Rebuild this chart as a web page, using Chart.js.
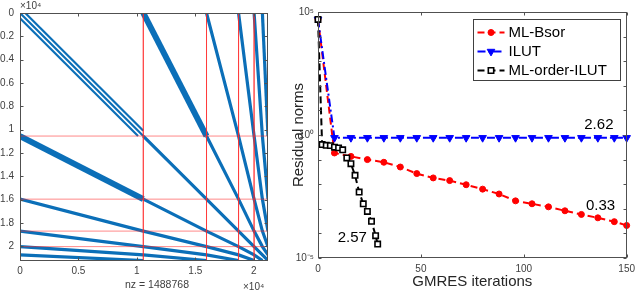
<!DOCTYPE html>
<html>
<head>
<meta charset="utf-8">
<script src="https://cdn.jsdelivr.net/npm/chart.js@4/dist/chart.umd.min.js"></script>
<style>
  html, body { margin: 0; padding: 0; background: #fff; }
  #wrap { position: relative; width: 640px; height: 292px; overflow: hidden; }
  #spy { position: absolute; left: 0; top: 0; }
  #conv { position: absolute; left: 290px; top: 0; }
</style>
</head>
<body>
<div id="wrap">
  <canvas id="spy" width="290" height="292"></canvas>
  <canvas id="conv" width="350" height="292"></canvas>
</div>
<script>
'use strict';

// left panel: sparsity pattern (units of 1e4)
const blockEdges = [0, 1.055, 1.596, 1.87, 2.003, 2.074, 2.122];
const redEdges = [1.055, 1.596, 1.87, 2.003];
const diagOffsets = [-0.045, 0.045];
const spyMax = 2.122;
const spyXTicks = [0, 0.5, 1, 1.5, 2];
const spyYTicks = [0, 0.2, 0.4, 0.6, 0.8, 1, 1.2, 1.4, 1.6, 1.8, 2];
const nzLabel = 'nz = 1488768';

// right panel: GMRES convergence
const bsorIters = [0, 8, 16, 24, 32, 40, 48, 56, 64, 72, 80, 88, 96, 104, 112, 120, 128, 136, 144, 150];
const bsorRes = [5e4, 0.186, 0.135, 0.1, 0.078, 0.05, 0.027, 0.018, 0.014, 0.0095, 0.0063, 0.004, 0.0021, 0.0016, 0.0012, 0.00083, 0.00059, 0.00043, 0.0003, 0.00021];
const ilutIters = [0, 8, 16, 24, 32, 40, 48, 56, 64, 72, 80, 88, 96, 104, 112, 120, 128, 136, 144, 150];
const ilutRes = [5e4, 0.77, 0.77, 0.77, 0.77, 0.77, 0.77, 0.77, 0.77, 0.77, 0.77, 0.77, 0.77, 0.77, 0.77, 0.77, 0.77, 0.77, 0.77, 0.77];
const orderIters = [0, 2, 4, 6, 8, 10, 12, 14, 16, 18, 20, 22, 24, 26, 28, 29];
const orderRes = [5e4, 0.41, 0.38, 0.37, 0.32, 0.3, 0.25, 0.117, 0.068, 0.023, 0.0048, 0.0016, 0.00078, 0.00031, 0.000081, 0.000037];
const convXTicks = [0, 50, 100, 150];
const convYTicks = [1e-5, 1e-4, 1e-3, 1e-2, 1e-1, 1, 10, 100, 1e3, 1e4, 1e5];
const convYLabelled = [1e-5, 1, 1e5];
const timeNotes = [
    { text: '2.62', x: 136.5, y: 2.6 },
    { text: '0.33', x: 137.3, y: 1.26e-3 },
    { text: '2.57', x: 16.7, y: 6.9e-5 },
];

Chart.defaults.font.family = '"Liberation Sans", Arial, sans-serif';
Chart.defaults.color = '#404040';
Chart.defaults.animation = false;

const spyBlue = '#0b6fb8';
const zip = (xs, ys) => xs.map((x, i) => ({ x: x, y: ys[i] }));
const sup = { '-': '\u207B', '0': '\u2070', '1': '\u00B9', '2': '\u00B2', '3': '\u00B3', '4': '\u2074', '5': '\u2075' };
const superscript = s => String(s).split('').map(c => sup[c]).join('');

/******************************** */
// shared: box + inward ticks

const boxAxes = {
    id: 'boxAxes',
    afterDraw(chart) {
        const { ctx, chartArea: a } = chart;
        const xs = chart.scales.x;
        const ys = chart.scales.y;
        const len = 3;
        const l = Math.round(a.left) + 0.5, r = Math.round(a.right) - 0.5;
        const t = Math.round(a.top) + 0.5, b = Math.round(a.bottom) - 0.5;
        ctx.save();
        ctx.strokeStyle = '#505050';
        ctx.lineWidth = 1;
        ctx.beginPath();
        xs.ticks.forEach(tk => {
            const px = Math.round(xs.getPixelForValue(tk.value)) + 0.5;
            ctx.moveTo(px, b); ctx.lineTo(px, b - len);
            ctx.moveTo(px, t); ctx.lineTo(px, t + len);
        });
        ys.ticks.forEach(tk => {
            const py = Math.round(ys.getPixelForValue(tk.value)) + 0.5;
            ctx.moveTo(l, py); ctx.lineTo(l + len, py);
            ctx.moveTo(r, py); ctx.lineTo(r - len, py);
        });
        ctx.stroke();
        ctx.strokeRect(l, t, r - l, b - t);
        ctx.restore();
    },
};

/******************************** */
// left: spy plot

const spySets = [];
const nb = blockEdges.length;
for (let d = -(nb - 2); d <= nb - 2; d++) {
    const pts = [];
    for (let j = 0; j + Math.abs(d) < nb; j++) {
        const a = blockEdges[j];
        const b = blockEdges[j + Math.abs(d)];
        pts.push(d >= 0 ? { x: b, y: a } : { x: a, y: b });
    }
    const wide = Math.abs(d) === 1;
    spySets.push({
        data: pts,
        showLine: true,
        pointRadius: 0,
        borderColor: spyBlue,
        borderWidth: 3,
        segment: { borderWidth: c => (wide && c.p0DataIndex === 0 ? 6 : d === 0 && c.p0DataIndex === 0 ? 2.2 : 3.2) },
        order: 5,
    });
}
// the first diagonal block is a triple band
diagOffsets.forEach(off => {
    const e = blockEdges[1];
    const pts = off > 0 ? [{ x: off, y: 0 }, { x: e, y: e - off }] : [{ x: 0, y: -off }, { x: e + off, y: e }];
    spySets.push({ data: pts, showLine: true, pointRadius: 0, borderColor: spyBlue, borderWidth: 2.2, order: 5 });
});
redEdges.forEach(e => {
    spySets.push({ data: [{ x: e, y: 0 }, { x: e, y: spyMax }], showLine: true, pointRadius: 0, borderColor: 'rgba(255,40,40,0.55)', borderWidth: 1, order: 1 });
    spySets.push({ data: [{ x: 0, y: e }, { x: spyMax, y: e }], showLine: true, pointRadius: 0, borderColor: 'rgba(255,40,40,0.55)', borderWidth: 1, order: 1 });
});

const spyText = {
    id: 'spyText',
    afterDraw(chart) {
        const { ctx, chartArea: a } = chart;
        ctx.save();
        ctx.fillStyle = '#404040';
        ctx.font = '10px "Liberation Sans", Arial, sans-serif';
        ctx.textBaseline = 'middle';
        ctx.textAlign = 'left';
        ctx.fillText('\u00D710' + superscript(4), a.left, 6);
        ctx.fillText('\u00D710' + superscript(4), a.right - 25, 287);
        ctx.textAlign = 'center';
        ctx.font = '10.5px "Liberation Sans", Arial, sans-serif';
        ctx.fillText(nzLabel, a.left + 137, 285);
        ctx.restore();
    },
};

new Chart(document.getElementById('spy'), {
    type: 'scatter',
    data: { datasets: spySets },
    options: {
        responsive: false,
        layout: { padding: { top: 13, right: 22, bottom: 0, left: 0 } },
        plugins: { legend: { display: false }, tooltip: { enabled: false } },
        scales: {
            x: {
                type: 'linear', min: 0, max: spyMax,
                grid: { display: false, drawTicks: false }, border: { display: false },
                afterBuildTicks: s => { s.ticks = spyXTicks.map(v => ({ value: v })); },
                afterFit: s => { s.height = 31.5; },
                ticks: { autoSkip: false, maxRotation: 0, padding: 5, font: { size: 10 }, callback: v => String(v) },
            },
            y: {
                type: 'linear', min: 0, max: spyMax, reverse: true,
                grid: { display: false, drawTicks: false }, border: { display: false },
                afterBuildTicks: s => { s.ticks = spyYTicks.map(v => ({ value: v })); },
                afterFit: s => { s.width = 20; },
                ticks: { autoSkip: false, padding: 6, font: { size: 10 }, callback: v => String(v) },
            },
        },
    },
    plugins: [boxAxes, spyText],
});

/******************************** */
// right: convergence

const convSets = [
    {
        label: 'ML-Bsor', data: zip(bsorIters, bsorRes), showLine: true,
        borderColor: '#ff0000', backgroundColor: '#ff0000', borderWidth: 2, borderDash: [7, 4],
        pointStyle: 'circle', pointRadius: 3, pointBorderWidth: 1, clip: false, order: 3,
    },
    {
        label: 'ILUT', data: zip(ilutIters, ilutRes), showLine: true,
        borderColor: '#0000ff', backgroundColor: '#0000ff', borderWidth: 2, borderDash: [8, 3, 2, 3],
        pointStyle: 'triangle', pointRotation: 180, pointRadius: 4.4, pointBorderWidth: 1, clip: false, order: 2,
    },
    {
        label: 'ML-order-ILUT', data: zip(orderIters, orderRes), showLine: true,
        borderColor: '#000000', backgroundColor: '#ffffff', borderWidth: 2, borderDash: [7, 4],
        pointStyle: 'rect', pointRadius: 3.8, pointBorderWidth: 1.6, clip: false, order: 1,
    },
];

const convLegend = {
    id: 'convLegend',
    afterDraw(chart) {
        const { ctx, chartArea: a } = chart;
        const w = 147, h = 61;
        const bx = Math.round(a.right - 7 - w) + 0.5, by = Math.round(a.top + 7) + 0.5;
        ctx.save();
        ctx.fillStyle = '#fff';
        ctx.fillRect(bx, by, w, h);
        ctx.strokeStyle = '#404040';
        ctx.lineWidth = 1;
        ctx.strokeRect(bx, by, w, h);
        ctx.font = '15px "Liberation Sans", Arial, sans-serif';
        ctx.textBaseline = 'middle';
        chart.data.datasets.forEach((ds, i) => {
            const y = by + 13 + i * 19;
            ctx.strokeStyle = ds.borderColor;
            ctx.lineWidth = ds.borderWidth;
            ctx.setLineDash(ds.borderDash);
            ctx.beginPath();
            ctx.moveTo(bx + 4, y);
            ctx.lineTo(bx + 31, y);
            ctx.stroke();
            ctx.setLineDash([]);
            ctx.fillStyle = ds.backgroundColor;
            ctx.lineWidth = ds.pointBorderWidth;
            Chart.helpers.drawPoint(ctx, { pointStyle: ds.pointStyle, rotation: ds.pointRotation || 0, radius: ds.pointRadius, borderWidth: ds.pointBorderWidth }, bx + 17.5, y);
            ctx.fillStyle = '#000';
            ctx.fillText(ds.label, bx + 35, y + 0.5);
        });
        ctx.restore();
    },
};

const convNotes = {
    id: 'convNotes',
    afterDraw(chart) {
        const { ctx } = chart;
        const xs = chart.scales.x, ys = chart.scales.y;
        ctx.save();
        ctx.fillStyle = '#000';
        ctx.font = '15px "Liberation Sans", Arial, sans-serif';
        ctx.textAlign = 'center';
        ctx.textBaseline = 'middle';
        timeNotes.forEach(n => ctx.fillText(n.text, xs.getPixelForValue(n.x), ys.getPixelForValue(n.y)));
        ctx.restore();
    },
};

new Chart(document.getElementById('conv'), {
    type: 'scatter',
    data: { datasets: convSets },
    options: {
        responsive: false,
        layout: { padding: { top: 12, right: 7, bottom: 0, left: 0 } },
        plugins: { legend: { display: false }, tooltip: { enabled: false } },
        scales: {
            x: {
                type: 'linear', min: 0, max: 150,
                grid: { display: false, drawTicks: false }, border: { display: false },
                afterBuildTicks: s => { s.ticks = convXTicks.map(v => ({ value: v })); },
                afterFit: s => { s.height = 34; },
                ticks: { autoSkip: false, maxRotation: 0, padding: 5, font: { size: 10 }, callback: v => String(v) },
                title: { display: true, text: 'GMRES iterations', color: '#262626', font: { size: 15 }, padding: { top: 0, bottom: 1 } },
            },
            y: {
                type: 'logarithmic', min: 1e-5, max: 1e5,
                grid: { display: false, drawTicks: false }, border: { display: false },
                afterBuildTicks: s => { s.ticks = convYTicks.map(v => ({ value: v })); },
                afterFit: s => { s.width = 28; },
                ticks: {
                    autoSkip: false, padding: 4, font: { size: 10 },
                    callback: v => (convYLabelled.includes(v) ? '10' + superscript(Math.round(Math.log10(v))) : ''),
                },
                title: { display: true, text: 'Residual norms', color: '#262626', font: { size: 15 }, padding: { top: 0, bottom: 0 } },
            },
        },
    },
    plugins: [boxAxes, convLegend, convNotes],
});
</script>
</body>
</html>
